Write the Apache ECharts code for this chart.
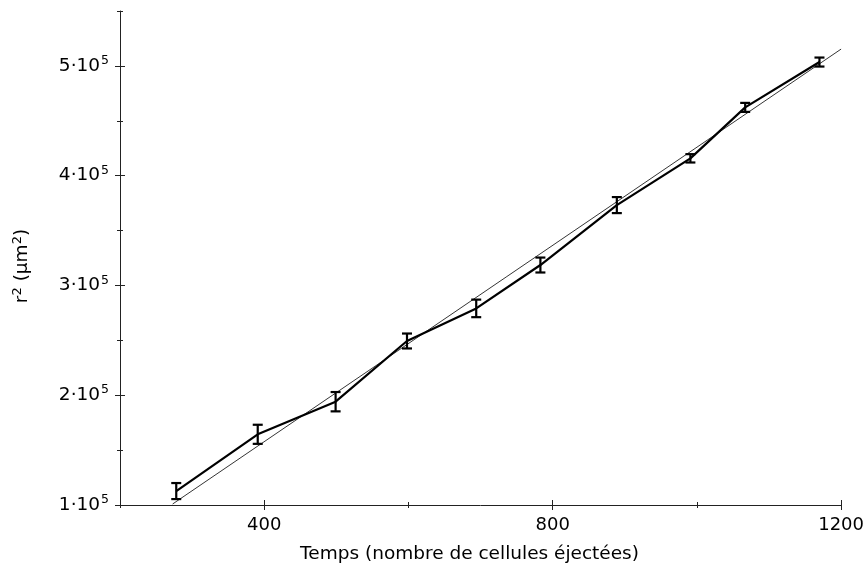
<!DOCTYPE html>
<html>
<head>
<meta charset="utf-8">
<script src="https://cdn.jsdelivr.net/npm/echarts@6/dist/echarts.min.js"></script>
<style>
  html, body { margin: 0; padding: 0; background: #fff; }
  #chart { width: 867px; height: 569px; }
</style>
</head>
<body>
<div id="chart"></div>
<script>
// mesures : temps (cellules éjectées) et r² (µm²)
const timeVals = [278, 391, 499, 598, 694, 783, 889, 991, 1067, 1170];
const r2Vals = [112700, 164400, 194100, 249400, 279100, 318600, 373200, 415800, 462200, 503500];
const r2Err = [7300, 8700, 8800, 6800, 8000, 6800, 7300, 3800, 4100, 4100];

// droite d'ajustement
const fitX = [273, 1200];
const fitY = [100900, 515300];

const xMajor = [400, 800, 1200];
const xMinor = [200, 600, 1000];
const yMajor = [100000, 200000, 300000, 400000, 500000];
const yMinor = [150000, 250000, 350000, 450000, 550000];

const FONT = 'DejaVu Sans';
const AXIS_COLOR = '#222';

const chart = echarts.init(document.getElementById('chart'));

// axe "fantôme" qui ne sert qu'à dessiner des graduations
const tickAxis = (base, values, len, inside) => Object.assign({
  type: 'value',
  axisLine: { show: false },
  axisLabel: { show: false },
  splitLine: { show: false },
  axisTick: { show: true, inside: inside, length: len, customValues: values,
    lineStyle: { color: AXIS_COLOR, width: 1 } }
}, base);

const xBase = { min: 200, max: 1200, position: 'bottom' };
const yBase = { min: 100000, max: 550000, position: 'left' };

const lineData = timeVals.map((t, i) => [t, r2Vals[i]]);
const errData = timeVals.map((t, i) => [t, r2Vals[i] - r2Err[i], r2Vals[i] + r2Err[i]]);
const fitData = fitX.map((x, i) => [x, fitY[i]]);

chart.setOption({
  animation: false,
  grid: { left: 120, right: 24, top: 11, bottom: 64 },
  xAxis: [
    {
      type: 'value', min: 200, max: 1200, position: 'bottom',
      name: 'Temps (nombre de cellules éjectées)',
      nameLocation: 'middle', nameGap: 40,
      nameTextStyle: { fontFamily: FONT, fontSize: 18.5, color: '#000', padding: [0, 22, 0, 0] },
      axisLine: { lineStyle: { color: AXIS_COLOR, width: 1 } },
      axisTick: { length: 5, customValues: xMajor, lineStyle: { color: AXIS_COLOR } },
      axisLabel: {
        customValues: xMajor, margin: 11, fontFamily: FONT, fontSize: 18, color: '#000',
        formatter: v => String(v)
      },
      splitLine: { show: false }
    },
    tickAxis(xBase, xMajor, 5, true),
    tickAxis(xBase, xMinor, 3, true),
    tickAxis(xBase, xMinor, 3, false)
  ],
  yAxis: [
    {
      type: 'value', min: 100000, max: 550000, position: 'left',
      name: '{b|r}{s|2}{b| (µm}{s|2}{b|)}',
      nameLocation: 'middle', nameGap: 86, nameRotate: 90,
      nameTextStyle: {
        padding: [0, 16, 0, 0],
        rich: {
          b: { fontFamily: FONT, fontSize: 18.5, color: '#000' },
          s: { fontFamily: FONT, fontSize: 13, color: '#000', padding: [0, 0, 10, 0] }
        }
      },
      axisLine: { show: true, lineStyle: { color: AXIS_COLOR, width: 1 } },
      axisTick: { length: 5, customValues: yMajor, lineStyle: { color: AXIS_COLOR } },
      axisLabel: {
        customValues: yMajor, margin: 11,
        formatter: v => '{b|' + (v / 100000) + '·10}{s|5}',
        rich: {
          b: { fontFamily: FONT, fontSize: 18.5, color: '#000' },
          s: { fontFamily: FONT, fontSize: 12.5, color: '#000', padding: [0, 0, 10, 1] }
        }
      },
      splitLine: { show: false }
    },
    tickAxis(yBase, yMajor, 5, true),
    tickAxis(yBase, yMinor, 3, true),
    tickAxis(yBase, yMinor, 3, false)
  ],
  series: [
    {
      type: 'line', data: fitData, symbol: 'none',
      lineStyle: { color: '#000', width: 0.8 }, z: 2
    },
    {
      type: 'line', data: lineData, symbol: 'none',
      lineStyle: { color: '#000', width: 2.2 }, z: 3
    },
    {
      type: 'custom', data: errData, z: 4,
      renderItem: function (params, api) {
        const x = api.value(0);
        const lo = api.coord([x, api.value(1)]);
        const hi = api.coord([x, api.value(2)]);
        const w = 5;
        const st = { stroke: '#000', lineWidth: 2.2 };
        return {
          type: 'group',
          children: [
            { type: 'line', shape: { x1: hi[0], y1: hi[1], x2: lo[0], y2: lo[1] }, style: st },
            { type: 'line', shape: { x1: hi[0] - w, y1: hi[1], x2: hi[0] + w, y2: hi[1] }, style: st },
            { type: 'line', shape: { x1: lo[0] - w, y1: lo[1], x2: lo[0] + w, y2: lo[1] }, style: st }
          ]
        };
      }
    }
  ]
});
</script>
</body>
</html>
